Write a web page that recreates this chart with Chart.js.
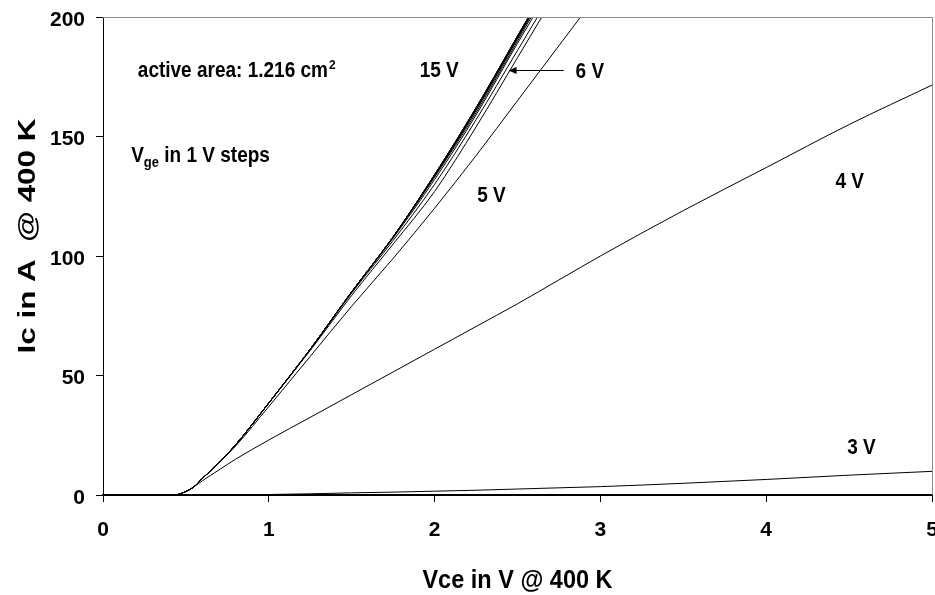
<!DOCTYPE html>
<html>
<head>
<meta charset="utf-8">
<script src="https://cdn.jsdelivr.net/npm/chart.js@4.4.1/dist/chart.umd.min.js"></script>
<style>
html, body { margin: 0; padding: 0; background: #fff; }
#wrap { width: 935px; height: 595px; }
</style>
</head>
<body>
<div id="wrap"><canvas id="ic-plot"></canvas></div>
<script>
// Vce in V (shared x grid for all curves)
let vce = [0, 0.4, 0.45, 0.5, 0.55, 0.6, 0.7, 0.8, 1.0, 1.25, 1.5, 1.75, 2.0, 2.25, 2.5, 2.75, 3.0, 3.5, 4.0, 4.5, 5.0]

// Ic in A, one list per gate voltage (curves above 200 A are cut by the axis)
let ic_3v  = [0, 0, 0, 0, 0, 0, 0.05, 0.1, 0.2, 0.5, 0.9, 1.2, 1.6, 2.0, 2.5, 3.0, 3.5, 4.9, 6.5, 8.3, 9.9]
let ic_4v  = [0, 0, 0.2, 1.5, 3.5, 6, 10.5, 15, 23, 32.5, 42, 51.5, 61, 70.5, 80, 90, 100, 119, 137, 155, 171.5]
let ic_5v  = [0, 0, 0.2, 1.5, 3.5, 7, 13.5, 20.5, 37, 58, 79, 99, 120, 142, 165, 188, 211]
let ic_6v  = [0, 0, 0.2, 1.5, 3.5, 7, 13.5, 21, 38.5, 60.5, 83.5, 105, 127, 154, 183, 212]
let ic_7v  = [0, 0, 0.2, 1.5, 3.5, 7, 13.5, 21, 38.5, 61, 84.5, 106.5, 130, 157, 186, 215]
let ic_8v  = [0, 0, 0.2, 1.5, 3.5, 7, 13.5, 21, 38.5, 61, 85, 107.5, 132, 159, 189, 218]
let ic_9v  = [0, 0, 0.2, 1.5, 3.5, 7, 13.5, 21, 38.5, 61, 85, 108, 133, 160, 190, 220]
let ic_10v = [0, 0, 0.2, 1.5, 3.5, 7, 13.5, 21, 38.5, 61, 85, 108, 133.5, 161, 191, 221]
let ic_11v = [0, 0, 0.2, 1.5, 3.5, 7, 13.5, 21, 38.5, 61, 85, 108, 133.5, 161, 191, 221]
let ic_12v = [0, 0, 0.2, 1.5, 3.5, 7, 13.5, 21, 38.5, 61, 85, 108, 134, 161.5, 191.5, 221.5]
let ic_13v = [0, 0, 0.2, 1.5, 3.5, 7, 13.5, 21, 38.5, 61, 85, 108, 134, 162, 192, 222]
let ic_14v = [0, 0, 0.2, 1.5, 3.5, 7, 13.5, 21, 38.5, 61, 85, 108, 134, 162, 192, 222]
let ic_15v = [0, 0, 0.2, 1.5, 3.5, 7, 13.5, 21, 38.5, 61, 85, 108, 134, 162, 192, 222]

let curves = [ic_3v, ic_4v, ic_5v, ic_6v, ic_7v, ic_8v, ic_9v, ic_10v, ic_11v, ic_12v, ic_13v, ic_14v, ic_15v]

let x_ticks = [0, 1, 2, 3, 4, 5]
let y_ticks = [0, 50, 100, 150, 200]

let x_title = 'Vce in V @ 400 K'
let y_title = 'Ic in A  @ 400 K'

// text notes, placed in data units
let notes = [
    {text: 'active area: 1.216 cm', sup: '2', x: 0.21, y: 175},
    {text: 'V', sub: 'ge', rest: ' in 1 V steps', x: 0.17, y: 139.3},
    {text: '15 V', x: 1.91, y: 174.9},
    {text: '6 V', x: 2.85, y: 174.4},
    {text: '5 V', x: 2.257, y: 122.7},
    {text: '4 V', x: 4.418, y: 128.3},
    {text: '3 V', x: 4.489, y: 17.2},
]
let arrow_6v = {x0: 2.778, x1: 2.446, y: 178}

const FONT = '"Liberation Sans", Arial, sans-serif'
const STRETCH = 1.12

function to_points(ic) {
    return ic.map((y, i) => ({x: vce[i], y: y}))
}

function draw_stretched(ctx, txt, px, py, sy) {
    ctx.save()
    ctx.translate(px, py)
    ctx.scale(1, sy)
    ctx.fillText(txt, 0, 0)
    ctx.restore()
}

let frame_plugin = {
    id: 'frame',
    afterDraw(chart) {
        let ctx = chart.ctx
        let a = chart.chartArea
        ctx.save()
        ctx.strokeStyle = '#8c8c8c'
        ctx.lineWidth = 1
        ctx.beginPath()
        ctx.moveTo(a.left, a.top + 0.5)
        ctx.lineTo(a.right + 0.5, a.top + 0.5)
        ctx.lineTo(a.right + 0.5, a.bottom)
        ctx.stroke()
        ctx.restore()
    }
}

let notes_plugin = {
    id: 'notes',
    afterDraw(chart) {
        let ctx = chart.ctx
        let xs = chart.scales.x
        let ys = chart.scales.y
        ctx.save()
        ctx.fillStyle = '#000'
        ctx.textAlign = 'left'
        ctx.textBaseline = 'alphabetic'
        notes.forEach(n => {
            let px = xs.getPixelForValue(n.x)
            let py = ys.getPixelForValue(n.y)
            ctx.font = 'bold 19px ' + FONT
            draw_stretched(ctx, n.text, px, py, STRETCH)
            let w = ctx.measureText(n.text).width
            if (n.sup) {
                ctx.font = 'bold 12px ' + FONT
                draw_stretched(ctx, n.sup, px + w + 1, py - 8, STRETCH)
            }
            if (n.sub) {
                ctx.font = 'bold 13px ' + FONT
                draw_stretched(ctx, n.sub, px + w, py + 5, STRETCH)
                let w2 = ctx.measureText(n.sub).width
                ctx.font = 'bold 19px ' + FONT
                draw_stretched(ctx, n.rest, px + w + w2, py, STRETCH)
            }
        })

        // arrow to the 6 V curve
        let ax0 = xs.getPixelForValue(arrow_6v.x0)
        let ax1 = xs.getPixelForValue(arrow_6v.x1)
        let ay = Math.round(ys.getPixelForValue(arrow_6v.y)) + 0.5
        ctx.strokeStyle = '#000'
        ctx.lineWidth = 1
        ctx.beginPath()
        ctx.moveTo(ax0, ay)
        ctx.lineTo(ax1 + 6, ay)
        ctx.stroke()
        ctx.beginPath()
        ctx.moveTo(ax1, ay)
        ctx.lineTo(ax1 + 8, ay - 3.5)
        ctx.lineTo(ax1 + 8, ay + 3.5)
        ctx.closePath()
        ctx.fill()

        // axis titles
        let a = chart.chartArea
        ctx.font = 'bold 23.5px ' + FONT
        ctx.textAlign = 'center'
        draw_stretched(ctx, x_title, (a.left + a.right) / 2, 588, 1.07)

        ctx.translate(35, 236)
        ctx.rotate(-Math.PI / 2)
        let tw = ctx.measureText(y_title).width
        ctx.scale(235 / tw, 1)
        ctx.fillText(y_title, 0, 0)
        ctx.restore()
    }
}

function make_chart() {
    Chart.defaults.font.family = FONT
    Chart.defaults.color = '#000'
    Chart.defaults.animation = false
    Chart.defaults.responsive = true
    Chart.defaults.maintainAspectRatio = false
    Chart.defaults.plugins.legend.display = false
    Chart.defaults.plugins.tooltip.enabled = false

    let datasets = curves.map(ic => ({
        data: to_points(ic),
        borderColor: '#000',
        borderWidth: 1,
        pointRadius: 0,
        fill: false,
        cubicInterpolationMode: 'monotone',
    }))

    let ctx = document.getElementById('ic-plot')
    return new Chart(ctx, {
        type: 'line',
        data: {datasets: datasets},
        options: {
            layout: {padding: {top: 17, right: 3, left: 0, bottom: 0}},
            scales: {
                x: {
                    type: 'linear',
                    min: 0, max: 5,
                    afterBuildTicks: s => { s.ticks = x_ticks.map(v => ({value: v})) },
                    afterFit: s => { s.height = 100; s.paddingLeft = 0; s.paddingRight = 0 },
                    ticks: {font: {size: 21, weight: 'bold'}, padding: 16, maxRotation: 0},
                    grid: {drawOnChartArea: false, drawTicks: true, tickLength: 7, color: '#000'},
                    border: {display: true, color: '#000', width: 2},
                },
                y: {
                    type: 'linear',
                    min: 0, max: 200,
                    afterBuildTicks: s => { s.ticks = y_ticks.map(v => ({value: v})) },
                    afterFit: s => { s.width = 103; s.paddingTop = 0; s.paddingBottom = 0 },
                    ticks: {font: {size: 21, weight: 'bold'}, padding: 11, labelOffset: 3},
                    grid: {drawOnChartArea: false, drawTicks: true, tickLength: 7, color: '#000'},
                    border: {display: true, color: '#000', width: 1},
                },
            },
        },
        plugins: [frame_plugin, notes_plugin],
    })
}

document.addEventListener('DOMContentLoaded', () => {
    make_chart()
})
</script>
</body>
</html>
